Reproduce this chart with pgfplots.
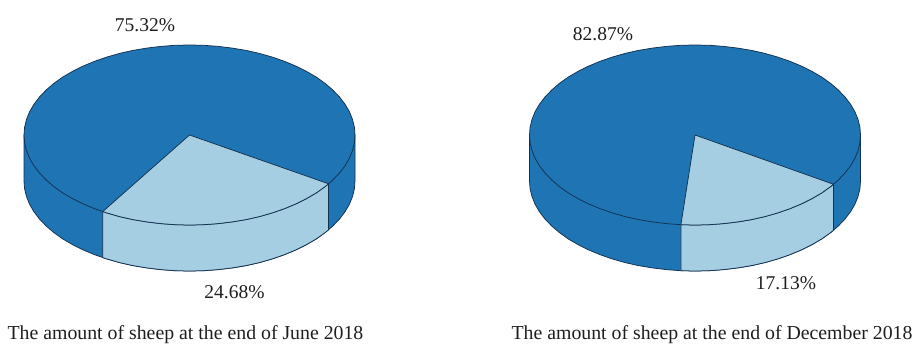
\documentclass[border=0pt]{standalone}
\usepackage{pgfplots}
\usepackage{pgfplotstable}
\usepackage{fontspec}
\setmainfont{Liberation Serif}
\pgfplotsset{compat=1.18}

\definecolor{sliceDark}{HTML}{1F75B4}
\definecolor{sliceLight}{HTML}{A6CEE3}
\definecolor{edge}{HTML}{12304F}
\definecolor{caption}{HTML}{1E1E1E}

% Outline of the disc top, relative to the centre of the pie (y grows downwards)
\pgfplotstableread{
x y
165.5 0
164.9 7.8
163.0 15.6
159.9 23.3
155.5 30.8
150.0 38.0
143.3 45.0
135.6 51.6
126.8 57.9
117.0 63.6
106.4 68.9
94.9 73.7
82.8 77.9
69.9 81.6
56.6 84.6
42.8 86.9
28.7 88.6
14.4 89.7
0 90
-14.4 89.7
-28.7 88.6
-42.8 86.9
-56.6 84.6
-69.9 81.6
-82.8 77.9
-94.9 73.7
-106.4 68.9
-117.0 63.6
-126.8 57.9
-135.6 51.6
-143.3 45.0
-150.0 38.0
-155.5 30.8
-159.9 23.3
-163.0 15.6
-164.9 7.8
-165.5 0
-164.9 -7.8
-163.0 -15.6
-159.9 -23.3
-155.5 -30.8
-150.0 -38.0
-143.3 -45.0
-135.6 -51.6
-126.8 -57.9
-117.0 -63.6
-106.4 -68.9
-94.9 -73.7
-82.8 -77.9
-69.9 -81.6
-56.6 -84.6
-42.8 -86.9
-28.7 -88.6
-14.4 -89.7
0 -90
14.4 -89.7
28.7 -88.6
42.8 -86.9
56.6 -84.6
69.9 -81.6
82.8 -77.9
94.9 -73.7
106.4 -68.9
117.0 -63.6
126.8 -57.9
135.6 -51.6
143.3 -45.0
150.0 -38.0
155.5 -30.8
159.9 -23.3
163.0 -15.6
164.9 -7.8
165.5 0
}\discTop

% Side wall of the disc: the lower half of the rim, dropped by its thickness
\pgfplotstableread{
x y
165.5 0
165.5 46
164.9 53.8
163.0 61.6
159.9 69.3
155.5 76.8
150.0 84.0
143.3 91.0
135.6 97.6
126.8 103.9
117.0 109.6
106.4 114.9
94.9 119.7
82.8 123.9
69.9 127.6
56.6 130.6
42.8 132.9
28.7 134.6
14.4 135.7
0 136
-14.4 135.7
-28.7 134.6
-42.8 132.9
-56.6 130.6
-69.9 127.6
-82.8 123.9
-94.9 119.7
-106.4 114.9
-117.0 109.6
-126.8 103.9
-135.6 97.6
-143.3 91.0
-150.0 84.0
-155.5 76.8
-159.9 69.3
-163.0 61.6
-164.9 53.8
-165.5 46
-165.5 0
}\discWall

% June 2018: 24.68% slice, top face and wall
\pgfplotstableread{
x y
0 0
139.1 48.8
135.6 51.6
126.8 57.9
117.0 63.6
106.4 68.9
94.9 73.7
82.8 77.9
69.9 81.6
56.6 84.6
42.8 86.9
28.7 88.6
14.4 89.7
0 90
-14.4 89.7
-28.7 88.6
-42.8 86.9
-56.6 84.6
-69.9 81.6
-82.8 77.9
-86.8 76.6
0 0
}\juneTop
\pgfplotstableread{
x y
139.1 48.8
139.1 94.8
135.6 97.6
126.8 103.9
117.0 109.6
106.4 114.9
94.9 119.7
82.8 123.9
69.9 127.6
56.6 130.6
42.8 132.9
28.7 134.6
14.4 135.7
0 136
-14.4 135.7
-28.7 134.6
-42.8 132.9
-56.6 130.6
-69.9 127.6
-82.8 123.9
-86.8 122.6
-86.8 76.6
139.1 48.8
}\juneWall

% December 2018: 17.13% slice, top face and wall
\pgfplotstableread{
x y
0 0
138.5 49.3
135.6 51.6
126.8 57.9
117.0 63.6
106.4 68.9
94.9 73.7
82.8 77.9
69.9 81.6
56.6 84.6
42.8 86.9
28.7 88.6
14.4 89.7
0 90
-14.1 89.7
0 0
}\decemberTop
\pgfplotstableread{
x y
138.5 49.3
138.5 95.3
135.6 97.6
126.8 103.9
117.0 109.6
106.4 114.9
94.9 119.7
82.8 123.9
69.9 127.6
56.6 130.6
42.8 132.9
28.7 134.6
14.4 135.7
0 136
-14.1 135.7
-14.1 89.7
138.5 49.3
}\decemberWall

\pgfplotsset{
  pie panel/.style={
    scale only axis, hide axis, clip=false, enlargelimits=false,
    y dir=reverse, height=345pt, anchor=south west,
    ymin=-135, ymax=210,
  },
  face/.style={draw=edge, line width=0.75pt, line join=round, fill=#1, no markers, forget plot},
}
\tikzset{
  pie label/.style={font=\fontsize{19.5}{22}\selectfont, text=caption, inner sep=0pt},
  pie title/.style={font=\fontsize{19.8}{22}\selectfont, text=caption, inner sep=0pt},
}

\begin{document}
\begin{tikzpicture}[x=1pt,y=1pt]
\path[use as bounding box] (0,0) rectangle (915,345);

\begin{axis}[pie panel, at={(0,0)}, width=457pt, xmin=-189.5, xmax=267.5]
  \addplot[face=sliceDark] table[x=x,y=y] {\discWall};
  \addplot[face=sliceLight] table[x=x,y=y] {\juneWall};
  \addplot[face=sliceDark] table[x=x,y=y] {\discTop};
  \addplot[face=sliceLight] table[x=x,y=y] {\juneTop};
  \node[pie label] at (axis cs:-44.5,-109.5) {75.32\%};
  \node[pie label] at (axis cs:45,157) {24.68\%};
  \node[pie title] at (axis cs:-4,199.5) {The amount of sheep at the end of June 2018};
\end{axis}

\begin{axis}[pie panel, at={(457pt,0)}, width=458pt, xmin=-238, xmax=220]
  \addplot[face=sliceDark] table[x=x,y=y] {\discWall};
  \addplot[face=sliceLight] table[x=x,y=y] {\decemberWall};
  \addplot[face=sliceDark] table[x=x,y=y] {\discTop};
  \addplot[face=sliceLight] table[x=x,y=y] {\decemberTop};
  \node[pie label] at (axis cs:-92,-101) {82.87\%};
  \node[pie label] at (axis cs:91,148) {17.13\%};
  \node[pie title] at (axis cs:17,200) {The amount of sheep at the end of December 2018};
\end{axis}
\end{tikzpicture}
\end{document}
